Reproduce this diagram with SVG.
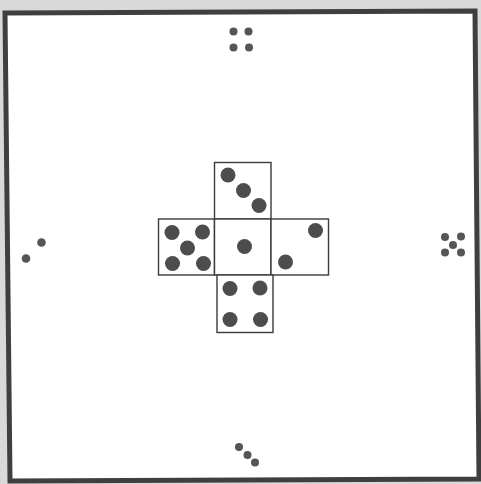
<svg xmlns="http://www.w3.org/2000/svg" width="481" height="484" viewBox="0 0 481 484">
<style>
.bg{fill:#d9d9d9}
.paper{fill:#ffffff}
.frame{fill:none;stroke:#3f3f3f;stroke-width:5;stroke-linejoin:miter}
.face{fill:#ffffff;stroke:#3a3a3a;stroke-width:1.4}
.pip{fill:#4d4d4d}
.sp{fill:#555555}
</style>
<rect class="bg" x="0" y="0" width="481" height="484"/>
<path class="paper" d="M5,13 L475,11 L479,479 L10,481 Z"/>
<path class="frame" d="M5,13 L475,11 L479,479 L10,481 Z"/>
<g id="net">
  <g id="face-top">
    <rect class="face" x="214.5" y="162.5" width="56.5" height="56.5"/>
    <circle class="pip" cx="228" cy="175" r="7.5"/>
    <circle class="pip" cx="243.5" cy="190.5" r="7.5"/>
    <circle class="pip" cx="259" cy="205.5" r="7.5"/>
  </g>
  <g id="face-left">
    <rect class="face" x="158.5" y="219" width="56" height="56"/>
    <circle class="pip" cx="172" cy="232.5" r="7.5"/>
    <circle class="pip" cx="202.5" cy="232" r="7.5"/>
    <circle class="pip" cx="187.5" cy="248" r="7.5"/>
    <circle class="pip" cx="172.5" cy="263.5" r="7.5"/>
    <circle class="pip" cx="203.5" cy="263.5" r="7.5"/>
  </g>
  <g id="face-center">
    <rect class="face" x="214.5" y="219" width="56.5" height="56"/>
    <circle class="pip" cx="244.5" cy="246.5" r="7.5"/>
  </g>
  <g id="face-right">
    <rect class="face" x="271" y="219" width="57.5" height="56"/>
    <circle class="pip" cx="315.5" cy="230.5" r="7.5"/>
    <circle class="pip" cx="285.5" cy="262" r="7.5"/>
  </g>
  <g id="face-bottom">
    <rect class="face" x="217" y="275" width="56" height="57.5"/>
    <circle class="pip" cx="230" cy="288.5" r="7.5"/>
    <circle class="pip" cx="260" cy="288" r="7.5"/>
    <circle class="pip" cx="230" cy="319.5" r="7.5"/>
    <circle class="pip" cx="260.5" cy="319.5" r="7.5"/>
  </g>
</g>
<g id="die-top">
  <circle class="sp" cx="233.5" cy="31.5" r="4"/>
  <circle class="sp" cx="248.5" cy="31.5" r="4"/>
  <circle class="sp" cx="233.5" cy="47.5" r="4"/>
  <circle class="sp" cx="249" cy="47.5" r="4"/>
</g>
<g id="die-left">
  <circle class="sp" cx="41.5" cy="242.5" r="4.3"/>
  <circle class="sp" cx="26" cy="258.5" r="4.3"/>
</g>
<g id="die-right">
  <circle class="sp" cx="445" cy="237" r="4"/>
  <circle class="sp" cx="461" cy="236.5" r="4"/>
  <circle class="sp" cx="453" cy="245" r="4"/>
  <circle class="sp" cx="445" cy="252.5" r="4"/>
  <circle class="sp" cx="461" cy="252.5" r="4"/>
</g>
<g id="die-bottom">
  <circle class="sp" cx="239" cy="447" r="4"/>
  <circle class="sp" cx="247.5" cy="455" r="4"/>
  <circle class="sp" cx="255" cy="462.5" r="4"/>
</g>
<g id="connectors"></g>
</svg>
